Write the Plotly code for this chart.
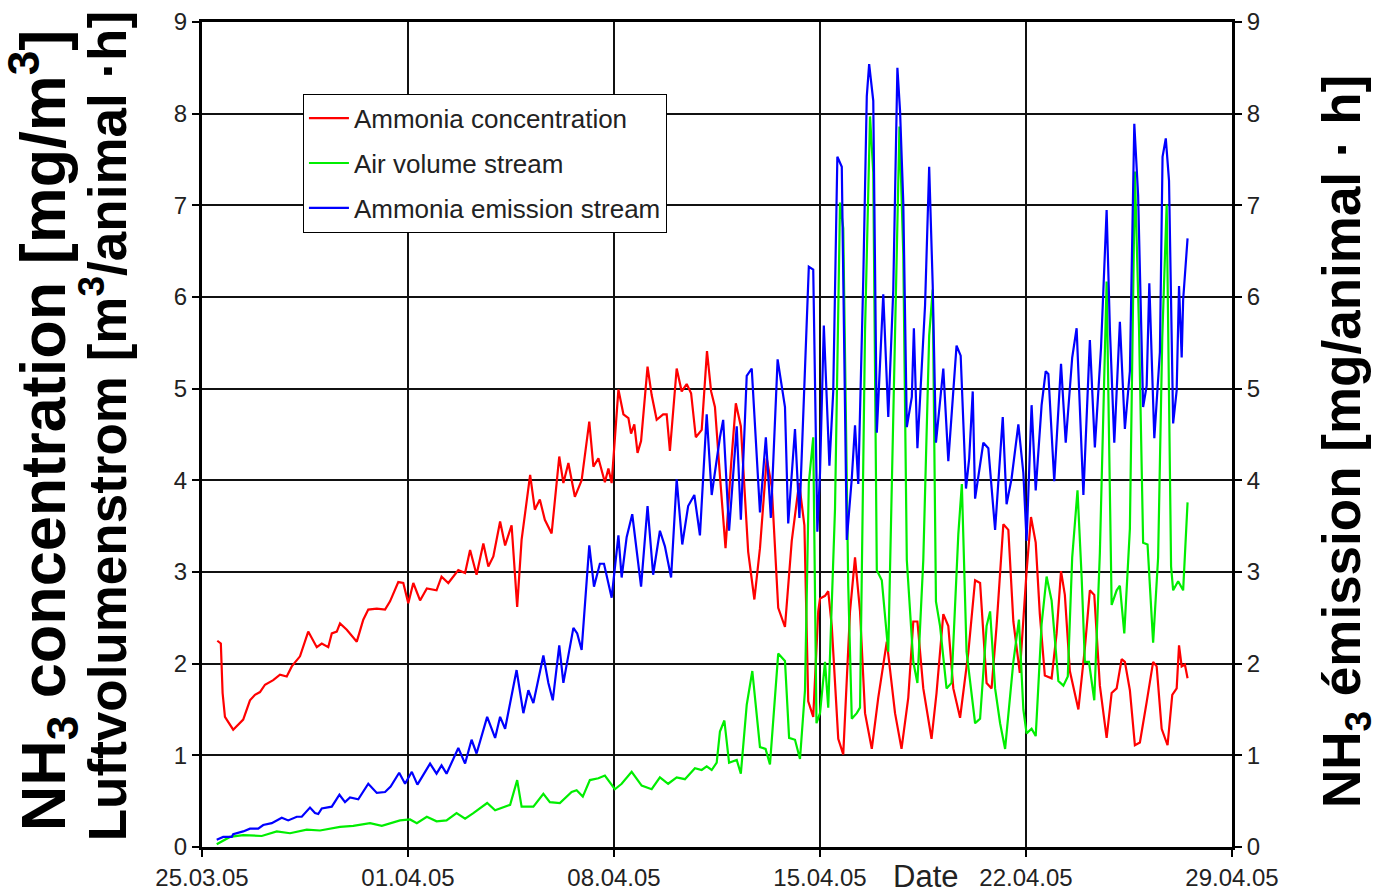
import plotly.graph_objects as go
import pandas as pd

# ---------------- data (days since 25.03.05 00:00, values) ----------------
red_days = [0.52,0.64,0.70,0.78,1.06,1.40,1.63,1.80,1.97,2.14,2.42,2.65,2.88,3.05,3.33,3.61,3.90,4.07,4.29,4.41,
            4.58,4.69,4.92,5.26,5.48,5.65,5.94,6.22,6.39,6.67,6.84,7.01,7.18,7.41,7.64,7.97,8.14,8.37,8.71,8.94,
            9.11,9.33,9.56,9.73,9.90,10.13,10.30,10.52,10.71,10.86,11.15,11.31,11.48,11.65,11.88,12.14,12.28,12.45,12.67,12.90,
            13.16,13.30,13.47,13.69,13.81,13.92,14.15,14.32,14.49,14.58,14.69,14.80,14.92,15.14,15.28,15.45,15.67,15.79,15.90,16.13,
            16.30,16.47,16.62,16.78,16.98,17.16,17.30,17.43,17.60,17.79,17.98,18.14,18.31,18.56,18.77,18.96,19.19,19.36,19.58,19.81,
            20.04,20.29,20.47,20.60,20.77,20.94,21.00,21.17,21.28,21.40,21.62,21.79,22.02,22.19,22.36,22.53,22.76,22.98,23.27,23.55,
            23.77,24.00,24.17,24.31,24.51,24.79,24.96,25.19,25.36,25.53,25.76,26.04,26.27,26.44,26.66,26.83,27.00,27.23,27.40,27.57,
            27.79,28.02,28.17,28.33,28.47,28.64,28.87,29.04,29.19,29.32,29.49,29.78,30.00,30.17,30.32,30.51,30.74,30.91,31.08,31.25,
            31.36,31.53,31.70,31.87,32.10,32.32,32.44,32.61,32.81,32.97,33.12,33.20,33.29,33.40,33.49]
red_vals = [2.25,2.22,1.68,1.42,1.28,1.39,1.60,1.66,1.69,1.77,1.82,1.88,1.86,1.97,2.08,2.35,2.18,2.22,2.18,2.33,
            2.35,2.44,2.37,2.24,2.48,2.59,2.60,2.59,2.68,2.89,2.88,2.66,2.88,2.69,2.82,2.80,2.95,2.88,3.02,2.99,
            3.24,2.97,3.31,3.06,3.17,3.55,3.29,3.51,2.62,3.35,4.06,3.68,3.79,3.57,3.42,4.26,3.97,4.19,3.82,4.00,
            4.64,4.15,4.24,3.98,4.13,3.97,4.99,4.72,4.68,4.51,4.61,4.30,4.43,5.24,4.93,4.66,4.72,4.72,4.32,5.22,
            4.97,5.05,4.95,4.47,4.55,5.41,4.97,4.80,4.05,3.26,4.18,4.84,4.59,3.22,2.70,3.26,4.24,3.93,2.61,2.40,
            3.34,3.97,3.51,1.59,1.42,2.57,2.71,2.74,2.79,2.41,1.18,1.01,2.57,3.16,2.57,1.46,1.07,1.63,2.24,1.46,
            1.07,1.63,2.46,2.46,1.73,1.18,1.68,2.54,2.41,1.73,1.41,2.12,2.91,2.88,1.79,1.73,2.41,3.52,3.46,2.46,
            1.90,3.01,3.60,3.32,2.54,1.87,1.84,2.33,3.01,2.75,1.92,1.50,2.17,2.80,2.75,1.76,1.19,1.68,1.73,2.05,
            2.02,1.71,1.11,1.14,1.58,2.02,1.97,1.29,1.11,1.66,1.73,2.20,1.97,1.99,1.84]

green_days = [0.50,0.95,1.40,2.03,2.54,2.99,3.56,4.01,4.69,5.14,5.71,6.11,6.73,7.07,7.30,7.64,7.97,8.31,8.65,8.94,
              9.22,9.69,9.96,10.47,10.71,10.86,11.26,11.60,11.82,12.16,12.56,12.73,12.94,13.18,13.47,13.69,14.03,14.26,14.60,14.94,
              15.28,15.56,15.84,16.13,16.41,16.75,16.98,17.15,17.32,17.49,17.60,17.75,17.91,18.17,18.31,18.51,18.70,18.96,19.15,19.30,
              19.58,19.81,19.95,20.15,20.32,20.49,20.62,20.77,20.88,21.00,21.17,21.28,21.51,21.68,21.79,21.96,22.08,22.25,22.36,22.53,
              22.70,22.81,22.93,23.10,23.32,23.49,23.70,23.83,23.95,24.17,24.31,24.51,24.71,24.83,24.94,25.08,25.30,25.47,25.70,25.82,
              25.98,26.27,26.44,26.66,26.78,26.95,27.12,27.29,27.57,27.76,27.91,28.02,28.19,28.33,28.53,28.70,28.87,29.10,29.27,29.42,
              29.57,29.75,29.89,30.00,30.14,30.32,30.51,30.74,30.91,31.08,31.19,31.34,31.53,31.70,31.84,31.98,32.13,32.32,32.49,32.63,
              32.78,32.93,33.00,33.17,33.34,33.49]
green_vals = [0.03,0.11,0.13,0.12,0.17,0.15,0.19,0.18,0.22,0.23,0.26,0.23,0.29,0.30,0.26,0.33,0.28,0.29,0.37,0.31,
              0.37,0.48,0.40,0.46,0.73,0.44,0.44,0.58,0.49,0.48,0.60,0.62,0.55,0.73,0.75,0.78,0.63,0.69,0.82,0.67,
              0.63,0.76,0.69,0.76,0.74,0.86,0.84,0.88,0.84,0.92,1.26,1.38,0.92,0.95,0.80,1.55,1.92,1.09,1.07,0.90,
              2.11,2.03,1.19,1.17,0.96,1.71,3.97,4.47,1.35,1.46,2.02,1.52,3.69,7.03,6.75,2.85,1.40,1.46,1.52,5.63,
              7.97,7.36,3.02,2.91,2.13,4.80,7.86,6.47,3.13,2.02,1.79,3.13,5.58,6.08,2.68,2.41,1.73,1.79,3.41,3.96,
              2.13,1.35,1.40,2.41,2.57,1.73,1.35,1.07,2.02,2.48,1.50,1.24,1.29,1.21,2.43,2.95,2.69,1.81,1.76,1.86,
              3.16,3.89,2.95,2.02,2.02,1.60,3.21,6.17,2.64,2.80,2.85,2.33,3.47,7.37,5.66,3.32,3.30,2.23,3.16,5.55,
              7.01,3.06,2.80,2.90,2.80,3.76]

blue_days = [0.50,0.72,1.01,1.06,1.40,1.63,1.91,2.08,2.37,2.71,2.93,3.22,3.39,3.67,3.84,3.95,4.07,4.41,4.67,4.86,
             5.03,5.31,5.65,5.94,6.22,6.41,6.70,6.90,7.13,7.32,7.75,7.97,8.14,8.31,8.71,8.94,9.16,9.33,9.69,9.96,
             10.13,10.30,10.69,10.92,11.09,11.26,11.60,11.77,11.92,12.14,12.28,12.62,12.75,12.90,13.16,13.32,13.52,13.66,13.92,14.15,
             14.26,14.43,14.62,14.77,14.92,15.14,15.33,15.56,15.73,15.94,16.13,16.32,16.52,16.73,16.92,17.15,17.32,17.60,17.71,17.91,
             18.17,18.31,18.51,18.68,18.96,19.16,19.33,19.56,19.81,19.92,20.15,20.30,20.49,20.62,20.77,20.91,21.00,21.13,21.32,21.45,
             21.59,21.74,21.91,22.08,22.19,22.30,22.47,22.59,22.67,22.81,22.93,23.04,23.15,23.32,23.49,23.63,23.72,23.83,23.95,24.12,
             24.19,24.31,24.45,24.57,24.71,24.83,24.94,25.08,25.19,25.36,25.64,25.78,25.96,26.07,26.19,26.27,26.55,26.72,26.95,27.21,
             27.34,27.51,27.74,27.91,28.02,28.19,28.33,28.53,28.67,28.76,28.96,29.19,29.35,29.57,29.72,29.95,30.17,30.34,30.55,30.74,
             30.85,31.00,31.19,31.36,31.53,31.68,31.81,31.98,32.10,32.19,32.36,32.55,32.64,32.75,32.86,33.00,33.12,33.20,33.29,33.34,
             33.49]
blue_vals = [0.08,0.11,0.11,0.14,0.17,0.20,0.20,0.24,0.26,0.32,0.29,0.33,0.33,0.43,0.37,0.36,0.42,0.44,0.57,0.49,
             0.54,0.52,0.69,0.59,0.60,0.66,0.81,0.69,0.82,0.68,0.91,0.80,0.89,0.80,1.08,0.91,1.17,1.02,1.42,1.19,
             1.42,1.29,1.93,1.46,1.71,1.57,2.09,1.79,1.60,2.20,1.79,2.39,2.33,2.15,3.29,2.84,3.09,3.09,2.72,3.40,
             2.94,3.38,3.63,3.22,2.84,3.72,2.97,3.45,3.28,2.94,4.01,3.30,3.72,3.84,3.40,4.72,3.84,4.47,4.66,3.45,
             4.59,3.57,5.14,5.22,3.65,4.47,3.59,5.32,4.80,3.53,4.56,3.59,5.32,6.33,6.30,3.44,4.08,5.69,4.16,4.97,
             7.53,7.42,3.35,4.02,4.60,3.96,6.19,8.19,8.54,8.14,4.52,5.36,6.03,4.69,6.08,8.50,8.03,7.03,4.58,4.91,
             5.66,4.35,5.19,5.91,7.42,6.13,4.41,4.85,5.22,4.21,5.47,5.36,3.91,4.24,4.97,3.80,4.41,4.35,3.46,4.69,
             3.74,4.02,4.61,4.08,3.34,4.82,3.89,4.82,5.19,5.16,3.99,5.27,4.41,5.34,5.66,3.84,5.53,4.36,5.45,6.95,
             5.66,4.41,5.73,4.56,5.19,7.89,7.11,4.80,5.03,6.15,4.46,5.40,7.53,7.73,7.27,4.62,4.98,6.12,5.34,5.97,
             6.64]

series_names = ["Ammonia concentration", "Air volume stream", "Ammonia emission stream"]
start_date = "2005-03-25"
end_date = "2005-04-29"

assert len(red_days) == len(red_vals), (len(red_days), len(red_vals))
assert len(green_days) == len(green_vals), (len(green_days), len(green_vals))
assert len(blue_days) == len(blue_vals), (len(blue_days), len(blue_vals))

base = pd.Timestamp(start_date)
def to_dates(days):
    return [base + pd.Timedelta(days=d) for d in days]

fig = go.Figure()
fig.add_trace(go.Scatter(x=to_dates(red_days), y=red_vals, mode="lines", name=series_names[0],
                         legendgroup="a", line=dict(color="#ff0000", width=2.2)))
fig.add_trace(go.Scatter(x=to_dates(green_days), y=green_vals, mode="lines", name=series_names[1],
                         legendgroup="b", line=dict(color="#00ee00", width=2.2)))
fig.add_trace(go.Scatter(x=to_dates(blue_days), y=blue_vals, mode="lines", name=series_names[2],
                         legendgroup="c", line=dict(color="#0000ff", width=2.2), yaxis="y2"))

base_font = "Liberation Sans, Arial, sans-serif"
tick_font = dict(family=base_font, size=24, color="#222222")

fig.update_layout(
    width=1374, height=893,
    margin=dict(l=202, r=142, t=22, b=46, autoexpand=False),
    paper_bgcolor="white", plot_bgcolor="white",
    showlegend=True,
    legend=dict(x=0.098, y=0.913, xanchor="left", yanchor="top",
                bgcolor="white", bordercolor="black", borderwidth=1,
                font=dict(family=base_font, size=26, color="#222222"),
                itemwidth=40, tracegroupgap=8, traceorder="grouped"),
    xaxis=dict(type="date", range=[start_date, end_date], tick0=start_date, dtick=7 * 86400000,
               tickformat="%d.%m.%y", showgrid=True, gridcolor="#111111", gridwidth=2,
               showline=True, linecolor="black", linewidth=3, mirror=True, automargin=False,
               ticks="outside", ticklen=7, tickcolor="black", tickwidth=2, tickfont=tick_font,
               zeroline=False),
    yaxis=dict(range=[0, 9], dtick=1, showgrid=True, gridcolor="#111111", gridwidth=2,
               showline=True, linecolor="black", linewidth=3, mirror=True, automargin=False,
               ticks="outside", ticklen=7, tickcolor="black", tickwidth=2, tickfont=tick_font,
               zeroline=False),
    yaxis2=dict(range=[0, 9], dtick=1, overlaying="y", side="right", showgrid=False,
                showline=True, linecolor="black", linewidth=3, automargin=False,
                ticks="outside", ticklen=7, tickcolor="black", tickwidth=2, tickfont=tick_font,
                zeroline=False),
    annotations=[
        dict(text="<b>NH<sub>3</sub> concentration [mg/m<sup>3</sup>]</b>", textangle=-90,
             xref="paper", yref="paper", x=-0.1544, y=0.505, xanchor="center", yanchor="middle",
             showarrow=False, font=dict(family=base_font, size=63, color="black")),
        dict(text="<b>Luftvolumenstrom [m<sup>3</sup>/animal ·h]</b>", textangle=-90,
             xref="paper", yref="paper", x=-0.0961, y=0.51, xanchor="center", yanchor="middle",
             showarrow=False, font=dict(family=base_font, size=53, color="black")),
        dict(text="<b>NH<sub>3</sub> émission [mg/animal · h]</b>", textangle=-90,
             xref="paper", yref="paper", x=1.1097, y=0.492, xanchor="center", yanchor="middle",
             showarrow=False, font=dict(family=base_font, size=53, color="black")),
        dict(text="Date", xref="paper", yref="paper", x=0.702, y=-0.036, xanchor="center", yanchor="middle",
             showarrow=False, font=dict(family=base_font, size=31, color="#222222")),
    ],
)

fig.write_html("out.html", config={"displayModeBar": False},
               post_script="document.body.style.margin='0';document.body.style.overflow='hidden';")
